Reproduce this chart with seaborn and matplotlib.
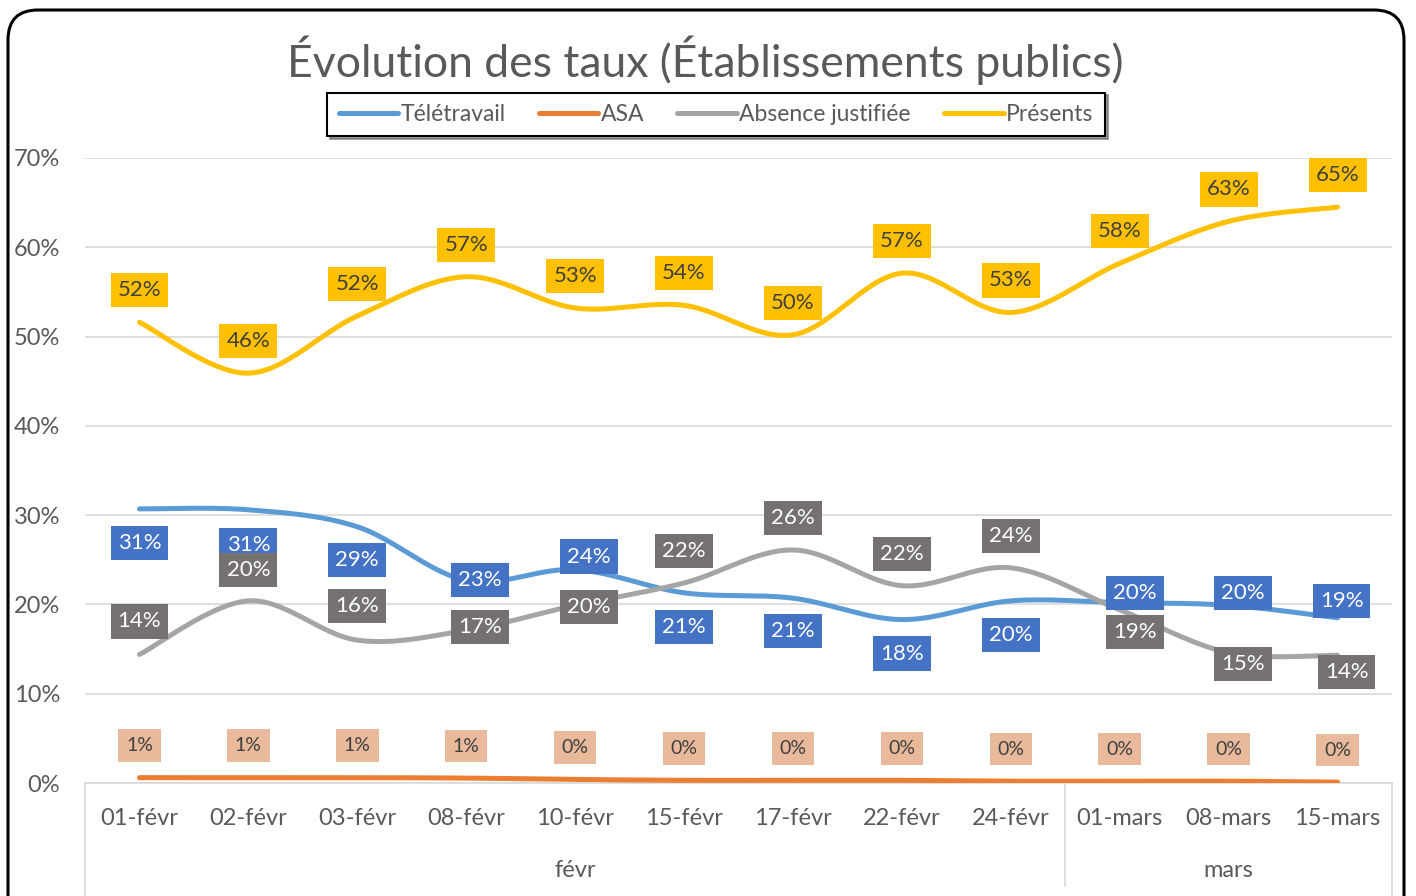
import seaborn as sns
import pandas as pd
import matplotlib.pyplot as plt
import numpy as np
from matplotlib.patches import FancyBboxPatch
from matplotlib.transforms import blended_transform_factory

# data
dates = ["01-févr", "02-févr", "03-févr", "08-févr", "10-févr", "15-févr",
         "17-févr", "22-févr", "24-févr", "01-mars", "08-mars", "15-mars"]
months = ["févr"] * 9 + ["mars"] * 3
teletravail = [0.307, 0.306, 0.287, 0.227, 0.239, 0.213, 0.207, 0.183, 0.204, 0.202, 0.199, 0.185]
asa = [0.006, 0.006, 0.006, 0.0055, 0.004, 0.003, 0.003, 0.003, 0.002, 0.002, 0.002, 0.001]
absence = [0.144, 0.204, 0.160, 0.171, 0.199, 0.224, 0.261, 0.221, 0.241, 0.194, 0.146, 0.143]
presents = [0.516, 0.459, 0.523, 0.567, 0.532, 0.535, 0.502, 0.571, 0.527, 0.582, 0.629, 0.645]

series = ["Télétravail", "ASA", "Absence justifiée", "Présents"]
values = {"Télétravail": teletravail, "ASA": asa,
          "Absence justifiée": absence, "Présents": presents}
line_colors = {"Télétravail": "#5B9BD5", "ASA": "#ED7D31",
               "Absence justifiée": "#A5A5A5", "Présents": "#FFC000"}
# label boxes: (face, text colour, font size, pad)
label_style = {"Télétravail": ("#4472C4", "white", 16, 0.32),
               "ASA": ("#E8B99A", "#404040", 14, 0.4),
               "Absence justifiée": ("#767171", "white", 16, 0.32),
               "Présents": ("#FFC000", "#404040", 16, 0.32)}
# label offsets in pixels (dx, dy, image y downwards)
offsets = {
    "Télétravail": [(0, 34), (0, 35), (0, 33), (14, 0), (14, -13), (0, 34),
                    (0, 33), (0, 34), (0, 34), (15, -10), (14, -12), (4, -17)],
    "ASA": [(0, -32)] * 12,
    "Absence justifiée": [(0, -33), (0, -31), (0, -34), (14, -3), (14, 2), (0, -32),
                          (0, -32), (0, -32), (0, -32), (15, 22), (14, 11), (9, 17)],
    "Présents": [(0, -32)] * 12,
}


def smooth(vals, n=30):
    # Excel-like smoothed line (Catmull-Rom as Bezier)
    y = np.asarray(vals, dtype=float)
    p = np.column_stack([np.arange(len(y), dtype=float), y])
    ext = np.vstack([p[0], p, p[-1]])
    t = np.linspace(0, 1, n)[:, None]
    out = []
    for i in range(len(y) - 1):
        p0, p1, p2, p3 = ext[i], ext[i + 1], ext[i + 2], ext[i + 3]
        c1 = p1 + (p2 - p0) / 6
        c2 = p2 - (p3 - p1) / 6
        seg = (1 - t) ** 3 * p1 + 3 * (1 - t) ** 2 * t * c1 + 3 * (1 - t) * t ** 2 * c2 + t ** 3 * p2
        out.append(seg if i == 0 else seg[1:])
    return np.vstack(out)


frames = []
for s in series:
    pts = smooth(values[s])
    frames.append(pd.DataFrame({"x": pts[:, 0], "y": pts[:, 1], "serie": s}))
df = pd.concat(frames, ignore_index=True)

sns.set_style("white")
plt.rcParams["font.family"] = ["Lato", "DejaVu Sans"]
grey = "#595959"

fig = plt.figure(figsize=(14.16, 8.96), dpi=100)
ax = fig.add_axes([85 / 1416, 1 - 783 / 896, (1392 - 85) / 1416, (783 - 158) / 896])

sns.lineplot(data=df, x="x", y="y", hue="serie", hue_order=series, palette=line_colors,
             estimator=None, sort=False, linewidth=3.6, solid_capstyle="round", ax=ax, zorder=3)

ax.set_xlim(-0.5, 11.5)
ax.set_ylim(0, 0.7)
yt = np.arange(0, 0.71, 0.1)
ax.set_yticks(yt)
ax.set_yticklabels([f"{int(round(v * 100))}%" for v in yt], fontsize=17, color=grey)
ax.tick_params(axis="y", length=0, pad=18)
ax.set_xticks([])
ax.set_xlabel("")
ax.set_ylabel("")
ax.grid(axis="y", color="#D9D9D9", linewidth=1.2)
for sp in ["top", "right", "left"]:
    ax.spines[sp].set_visible(False)
ax.spines["bottom"].set_color("#D9D9D9")
ax.spines["bottom"].set_linewidth(1.2)

# data labels
for s in series:
    face, tc, fs, pad = label_style[s]
    for i, v in enumerate(values[s]):
        dx, dy = offsets[s][i]
        ax.annotate(f"{int(v * 100 + 0.5)}%", (i, v), xytext=(dx, -dy),
                    textcoords="offset pixels", ha="center", va="center",
                    fontsize=fs, color=tc, zorder=5,
                    bbox=dict(boxstyle=f"square,pad={pad}", fc=face, ec="none"))

# two-level category axis
tr = blended_transform_factory(ax.transData, ax.transAxes)
for i, d in enumerate(dates):
    ax.text(i, -35 / 625, d, transform=tr, ha="center", va="center", fontsize=17, color=grey)
groups = {}
for i, m in enumerate(months):
    groups.setdefault(m, []).append(i)
for m, idx in groups.items():
    ax.text(np.mean(idx), -87 / 625, m, transform=tr, ha="center", va="center", fontsize=17, color=grey)
for xb, yb in [(-0.5, -0.2), (8.5, -0.165), (11.5, -0.2)]:
    ax.plot([xb, xb], [0, yb], transform=tr, color="#D9D9D9", lw=1.2, clip_on=False)

# legend
handles, labels = ax.get_legend_handles_labels()
ax.legend(handles, labels, loc="center", bbox_to_anchor=(716 / 1416, 1 - 114.5 / 896),
          bbox_transform=fig.transFigure, ncol=4, frameon=True, fancybox=False, shadow=True,
          edgecolor="black", fontsize=16.5, handlelength=2.6, handletextpad=0.1,
          columnspacing=1.45, borderpad=0.5, labelcolor=grey)
ax.get_legend().get_frame().set_linewidth(1.5)

fig.suptitle("Évolution des taux (Établissements publics)", x=705 / 1416, y=1 - 60 / 896,
             va="center", fontsize=32, color=grey)

# rounded chart border
border = FancyBboxPatch((0.08, -0.3), 13.96, 9.16, boxstyle="round,pad=0,rounding_size=0.3",
                        transform=fig.dpi_scale_trans, fc="none", ec="black", lw=2.2)
fig.patches.append(border)

fig.savefig("out.png", dpi=100)
